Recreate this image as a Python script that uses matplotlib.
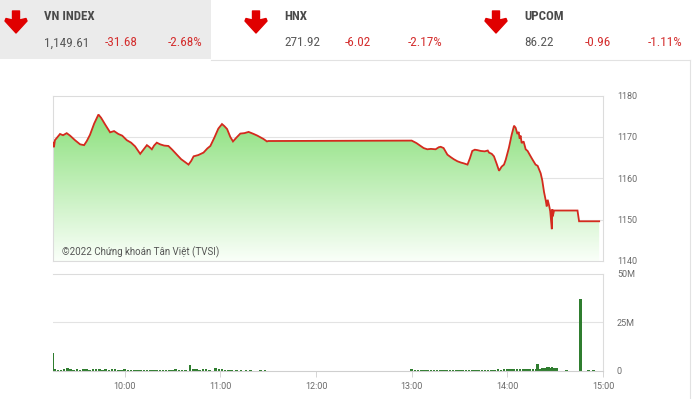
import numpy as np
import matplotlib
matplotlib.use("Agg")
import matplotlib.pyplot as plt
from matplotlib import font_manager
from matplotlib.patches import Rectangle, Polygon

# ---------------- data ----------------
indices = ["VN INDEX", "HNX", "UPCOM"]
index_values = ["1,149.61", "271.92", "86.22"]
index_changes = ["-31.68", "-6.02", "-0.96"]
index_pcts = ["-2.68%", "-2.17%", "-1.11%"]

# minutes after 09:00 and VN-Index level
price_minutes = [15, 15.6, 16.2, 17.5, 19.4, 21.3, 23.6, 25.7, 28.8, 32, 34.5, 36.2, 38.2,
                 40.8, 43.5, 45.2, 47.7, 50.8, 53.3, 56, 58.4, 61.3, 64, 66.5, 69.7, 71.5,
                 73.9, 75.3, 77, 78.4, 80.1, 82.2, 84.7, 87.4, 89.8, 92.7, 95.4, 97.9, 100,
                 101.7, 103.2, 106.1, 109.4, 111.8, 113.7, 116.2, 118.7, 121, 122.5, 124.2,
                 126.2, 127.9, 130, 132.5, 135, 137.7, 140.9, 143.2, 145.1, 147, 149.2, 150,
                 240, 243, 245.6, 247.5, 249.8, 252, 255, 257, 258.2, 260, 262.4, 264.5,
                 266.4, 268.7, 270.8, 272.7, 275, 276.5, 278, 279.6, 281.2, 283.3, 285.8,
                 287.7, 288.5, 290.2, 291.6, 293.3, 294.8, 296.4, 297.9, 299, 301, 302.7,
                 304.2, 305.2, 306.3, 307.1, 307.7, 308.3, 309, 310.2, 311.5, 312.7, 314.6,
                 315.8, 317.7, 319, 320.9, 321.9, 323, 324.1, 324.7, 325.3, 326.2, 326.9,
                 327.6, 327.9, 328.2, 328.5, 329.3, 344, 345, 357.6]
price_values = [1168.6, 1167.5, 1169.2, 1169.8, 1170.7, 1170.4, 1170.9, 1170.3, 1169.2, 1168.2,
                1168.0, 1169.0, 1170.5, 1173.2, 1175.4, 1174.6, 1173.0, 1171.1, 1171.4, 1170.7,
                1170.3, 1169.2, 1168.6, 1167.7, 1165.9, 1166.8, 1168.0, 1167.6, 1167.0, 1167.9,
                1168.6, 1168.2, 1167.9, 1167.8, 1166.9, 1165.7, 1164.6, 1163.9, 1163.3, 1164.2,
                1165.3, 1165.6, 1166.2, 1167.2, 1167.8, 1169.8, 1172.0, 1173.1, 1172.6, 1171.9,
                1170.0, 1168.9, 1169.8, 1170.8, 1170.9, 1171.2, 1170.7, 1170.3, 1169.9, 1169.5,
                1168.9, 1169.0,
                1169.1, 1168.5, 1167.8, 1167.3, 1167.0, 1167.1, 1167.0, 1167.5, 1167.6, 1167.3,
                1165.7, 1165.1, 1164.6, 1164.1, 1163.8, 1163.6, 1163.3, 1164.8, 1166.6, 1166.9,
                1166.8, 1166.6, 1166.5, 1166.7, 1166.2, 1165.9, 1165.3, 1163.5, 1161.8, 1162.8,
                1163.3, 1164.5, 1167.4, 1170.5, 1172.7, 1172.2, 1170.7, 1171.2, 1169.6, 1170.3,
                1168.5, 1168.9, 1167.0, 1166.6, 1165.3, 1164.5, 1163.3, 1163.0, 1161.2, 1159.5,
                1156.7, 1154.6, 1153.2, 1154.8, 1153.4, 1152.0, 1149.0, 1147.7, 1152.5, 1150.8,
                1152.2, 1152.2, 1149.6, 1149.6]

# volume (millions of shares), minutes after 09:00
vol_minutes = [15, 16, 18, 20, 22, 24, 26, 28, 30, 32, 34, 36, 38, 40, 42, 44, 46, 48, 50, 52,
               54, 56, 58, 60, 62, 64, 66, 68, 70, 72, 74, 76, 78, 80, 82, 84, 86, 88, 90, 92,
               94, 96, 98, 101, 103, 105, 107, 109, 111, 113, 117, 119, 121, 123, 125, 127,
               130, 133, 136, 139, 142, 145, 148,
               240, 242, 244, 246, 248, 250, 252, 254, 256, 258, 260, 262, 264, 266, 268, 270,
               272, 274, 276, 278, 280, 282, 284, 286, 288, 290, 292, 294, 296, 298, 300, 302,
               304, 306, 308, 310, 312, 314, 316, 318, 319, 320, 322, 323, 324, 325, 326, 327,
               328, 329, 331, 337, 346, 351, 354]
vol_values = [9.0, 0.8, 0.6, 0.7, 0.9, 1.6, 0.8, 0.7, 0.9, 0.6, 0.8, 1.0, 0.7, 0.9, 1.1, 0.8,
              0.7, 0.9, 0.6, 0.8, 1.0, 0.7, 0.6, 0.8, 0.7, 0.6, 0.7, 0.5, 0.6, 0.5, 0.6, 0.4,
              0.5, 0.4, 0.5, 0.6, 0.5, 0.7, 0.6, 0.8, 0.7, 0.6, 0.7, 3.2, 0.9, 0.8, 0.7, 0.9,
              0.8, 0.7, 1.3, 0.9, 0.8, 0.6, 0.5, 0.4, 0.3, 0.3, 0.3, 0.3, 0.2, 0.3, 0.3,
              1.2, 0.5, 0.4, 0.5, 0.4, 0.5, 0.4, 0.5, 0.6, 0.4, 0.5, 0.6, 0.5, 0.6, 0.5, 0.7,
              0.5, 0.6, 0.5, 0.6, 0.7, 0.6, 0.5, 0.6, 0.7, 0.6, 0.7, 0.8, 0.7, 0.9, 1.0, 0.9,
              1.0, 0.9, 1.1, 1.0, 1.1, 1.0, 1.2, 1.1, 3.6, 1.2, 1.4, 1.6, 1.5, 1.8, 1.9, 1.7,
              2.0, 1.6, 1.5, 0.6, 37.0, 0.5, 0.4]

hour_ticks = [10, 11, 12, 13, 14, 15]
hour_labels = ["10:00", "11:00", "12:00", "13:00", "14:00", "15:00"]
price_ticks = [1140, 1150, 1160, 1170, 1180]
vol_ticks = [0, 25, 50]
vol_tick_labels = ["0", "25M", "50M"]
watermark = "©2022 Chứng khoán Tân Việt (TVSI)"

# ---------------- fonts ----------------
names = {f.name for f in font_manager.fontManager.ttflist}
if "Roboto Condensed" in names:
    hfont = "Roboto Condensed"
elif "Liberation Sans Narrow" in names:
    hfont = "Liberation Sans Narrow"
else:
    hfont = "Roboto"
plt.rcParams["font.family"] = ["Roboto", "DejaVu Sans"]

W, H = 693, 399
fig = plt.figure(figsize=(W / 100, H / 100), dpi=100)
fig.patch.set_facecolor("white")


def px_axes(l, t, r, b, **kw):
    return fig.add_axes([l / W, 1 - b / H, (r - l) / W, (b - t) / H], **kw)


# overlay for header & borders (pixel coordinates)
ov = px_axes(0, 0, W, H, zorder=0)
ov.set_xlim(0, W)
ov.set_ylim(H, 0)
ov.axis("off")
ov.add_patch(Rectangle((0, 0), 211, 59, facecolor="#ebebeb", edgecolor="none"))
ov.plot([211, 689.5], [59.5, 59.5], color="#e2e2e2", lw=0.8)
ov.plot([689.5, 689.5], [59.5, H], color="#e2e2e2", lw=0.8)

red = "#d42f2f"
for i, name in enumerate(indices):
    x0 = 44 + i * 240
    cx = 16 + i * 240
    arrow = [(cx - 3.5, 11), (cx + 3.5, 11), (cx + 3.5, 20), (cx + 10, 18.5),
             (cx + 11, 21), (cx, 33), (cx - 11, 21), (cx - 10, 18.5), (cx - 3.5, 20)]
    ov.add_patch(Polygon(arrow, closed=True, facecolor="#e00000", edgecolor="#e00000",
                         lw=1.0, joinstyle="round"))
    ov.text(x0, 17, name, fontsize=9.3, fontweight="bold", color="#4a4a4a",
            family=hfont, va="center", ha="left")
    ov.text(x0, 43, index_values[i], fontsize=9.5, color="#5a5a5a",
            family=hfont, va="center", ha="left")
    ov.text(x0 + 61, 43, index_changes[i], fontsize=9.5, color=red,
            family=hfont, va="center", ha="left")
    ov.text(x0 + 124, 43, index_pcts[i], fontsize=9.5, color=red,
            family=hfont, va="center", ha="left")

# ---------------- price chart ----------------
t = 9 + np.array(price_minutes) / 60.0
v = np.array(price_values)
xmin, xmax = 9.25, 15.0

ax = px_axes(53, 95.5, 603, 261, zorder=2)
ax.set_xlim(xmin, xmax)
ax.set_ylim(1140, 1180)

poly = ax.fill_between(t, v, 1140, facecolor="none", edgecolor="none")
ys = np.linspace(0, 1, 256)
top = np.array([125, 220, 108]) / 255.0
bot = np.array([250, 255, 249]) / 255.0
grad = np.zeros((256, 1, 4))
for k in range(3):
    grad[:, 0, k] = bot[k] + (top[k] - bot[k]) * ys
grad[:, 0, 3] = 1
im = ax.imshow(grad, extent=[xmin, xmax, 1140, 1180], origin="lower",
               aspect="auto", zorder=1, interpolation="bilinear")
im.set_clip_path(poly.get_paths()[0], transform=ax.transData)
ax.plot(t, v, color="#d42a1e", lw=1.3, zorder=3, solid_joinstyle="miter")

for yv in [1150, 1160, 1170]:
    ax.axhline(yv, color="#e3e3e3", lw=0.8, zorder=0.5)
for s in ax.spines.values():
    s.set_color("#dcdcdc")
    s.set_linewidth(0.8)
ax.set_xticks([])
ax.yaxis.tick_right()
ax.set_yticks(price_ticks)
ax.set_yticklabels([str(p) for p in price_ticks])
ax.tick_params(axis="y", length=0, pad=10, labelsize=6.5, labelcolor="#6a6a6a")
ax.set_facecolor("white")
ax.text(0.017, 0.055, watermark, transform=ax.transAxes, fontsize=7,
        color="#555555", ha="left", va="center", zorder=4)

# ---------------- volume chart ----------------
vt = 9 + np.array(vol_minutes) / 60.0
av = px_axes(53, 273.5, 603, 371, zorder=2)
av.bar(vt, vol_values, width=1.6 / 60.0, color="#2f7d2f", linewidth=0, align="center")
av.set_xlim(xmin, xmax)
av.set_ylim(0, 50)
av.axhline(25, color="#e3e3e3", lw=0.8, zorder=0)
for k, s in av.spines.items():
    s.set_color("#dcdcdc")
    s.set_linewidth(0.8)
av.spines["left"].set_visible(False)
av.spines["bottom"].set_color("#cfcfcf")
av.yaxis.tick_right()
av.set_yticks(vol_ticks)
av.set_yticklabels(vol_tick_labels)
av.tick_params(axis="y", length=0, pad=10, labelsize=6.5, labelcolor="#6a6a6a")
av.set_xticks(hour_ticks)
av.set_xticklabels(hour_labels)
av.tick_params(axis="x", length=4, width=0.6, color="#cfcfcf", pad=4,
               labelsize=6.5, labelcolor="#6a6a6a")

fig.savefig("out.png", dpi=100, facecolor="white")
